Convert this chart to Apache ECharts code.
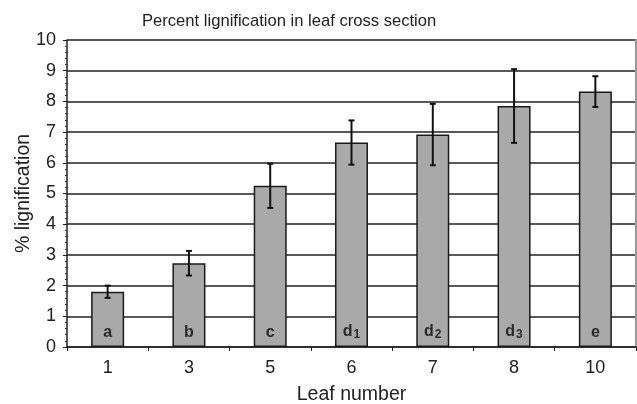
<!DOCTYPE html>
<html>
<head>
<meta charset="utf-8">
<script src="https://cdn.jsdelivr.net/npm/echarts@6/dist/echarts.min.js"></script>
<style>
html, body { margin: 0; padding: 0; background: #fff; }
#chart { width: 637px; height: 404px; }
</style>
</head>
<body>
<div id="chart"></div>
<script>
// leaf numbers on x axis
var leaves = ['1', '3', '5', '6', '7', '8', '10'];
// mean % lignification
var means = [1.8, 2.73, 5.25, 6.66, 6.92, 7.85, 8.32];
// error bar half widths
var errs = [0.2, 0.4, 0.72, 0.72, 1.0, 1.2, 0.5];
// significance letters (letter, subscript)
var letters = ['a', 'b', 'c', 'd', 'd', 'd', 'e'];
var subs = ['', '', '', '1', '2', '3', ''];

var errData = [];
for (var i = 0; i < means.length; i++) {
    errData.push([i, means[i] - errs[i], means[i] + errs[i]]);
}

var chart = echarts.init(document.getElementById('chart'));
var txt = '#222';
var font = 'Liberation Sans, Arial, sans-serif';

chart.setOption({
    animation: false,
    textStyle: { fontFamily: font },
    title: {
        text: 'Percent lignification in leaf cross section',
        left: 137,
        top: 8,
        textStyle: { fontSize: 16.6, fontWeight: 'normal', color: txt, fontFamily: font }
    },
    grid: { left: 67, right: 1, top: 40, bottom: 57, outerBoundsMode: 'none', containLabel: false },
    xAxis: {
        type: 'category',
        data: leaves,
        axisLine: { lineStyle: { color: '#222', width: 1.5 } },
        axisTick: { show: true, length: 4, lineStyle: { color: '#222' } },
        axisLabel: { fontSize: 18, color: txt, margin: 12 },
        name: 'Leaf number',
        nameLocation: 'middle',
        nameGap: 38,
        nameTextStyle: { fontSize: 19.5, color: txt }
    },
    yAxis: [{
        type: 'value',
        min: 0,
        max: 10,
        interval: 1,
        axisLine: { show: true, lineStyle: { color: '#222', width: 1.5 } },
        axisTick: { show: true, length: 4, lineStyle: { color: '#222' } },
        minorTick: { show: true, splitNumber: 5, length: 2, lineStyle: { color: '#333' } },
        axisLabel: { fontSize: 18, color: txt, margin: 11 },
        splitLine: { show: true, lineStyle: { color: '#222', width: 1.5 } },
        name: '% lignification',
        nameLocation: 'middle',
        nameGap: 33,
        nameMoveOverlap: false,
        nameTextStyle: { fontSize: 19.5, color: txt }
    }, {
        type: 'value',
        min: 0,
        max: 10,
        position: 'right',
        axisLine: { show: true, lineStyle: { color: '#999', width: 2 } },
        axisTick: { show: false },
        axisLabel: { show: false },
        splitLine: { show: false }
    }],
    series: [{
        type: 'bar',
        data: means,
        barWidth: 33,
        itemStyle: { color: '#a9a9a9', borderColor: '#1a1a1a', borderWidth: 1.5 },
        label: {
            show: true,
            position: 'insideBottom',
            distance: 6,
            formatter: function (p) {
                var i = p.dataIndex;
                return '{b|' + letters[i] + '}' + (subs[i] ? '{s|' + subs[i] + '}' : '');
            },
            rich: {
                b: { fontSize: 16, fontWeight: 'bold', color: '#2a2a2a', fontFamily: font },
                s: { fontSize: 12, fontWeight: 'bold', color: '#2a2a2a', fontFamily: font, padding: [7, 0, 0, 1] }
            }
        },
        z: 2
    }, {
        type: 'custom',
        data: errData,
        z: 5,
        renderItem: function (params, api) {
            var x = api.value(0);
            var lo = api.coord([x, api.value(1)]);
            var hi = api.coord([x, api.value(2)]);
            var c = 3;
            var st = { stroke: '#111', lineWidth: 2 };
            return {
                type: 'group',
                children: [
                    { type: 'line', shape: { x1: lo[0], y1: lo[1], x2: hi[0], y2: hi[1] }, style: st },
                    { type: 'line', shape: { x1: lo[0] - c, y1: lo[1], x2: lo[0] + c, y2: lo[1] }, style: st },
                    { type: 'line', shape: { x1: hi[0] - c, y1: hi[1], x2: hi[0] + c, y2: hi[1] }, style: st }
                ]
            };
        }
    }]
});
</script>
</body>
</html>
